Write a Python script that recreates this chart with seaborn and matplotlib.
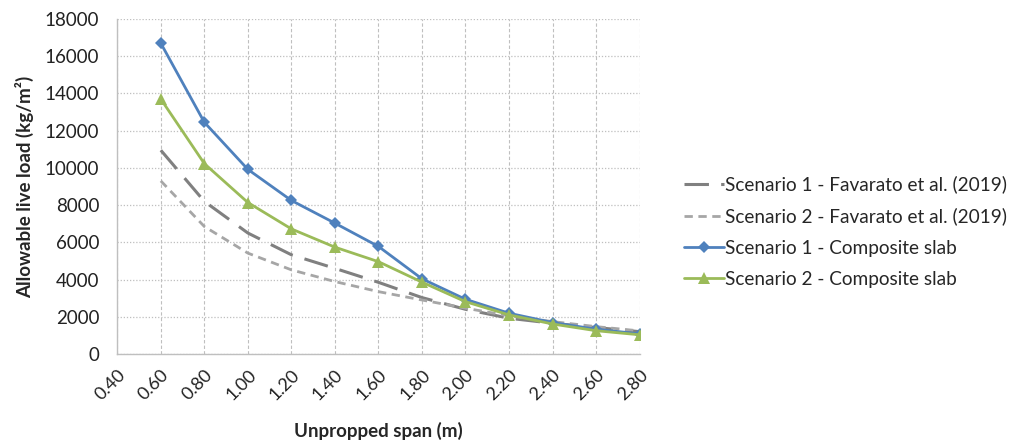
import matplotlib
matplotlib.use("Agg")
import matplotlib.pyplot as plt
import seaborn as sns
import pandas as pd
import numpy as np

# Values
span = [0.60, 0.80, 1.00, 1.20, 1.40, 1.60, 1.80, 2.00, 2.20, 2.40, 2.60, 2.80]
fav_s1 = [10950, 8200, 6500, 5330, 4600, 3850, 3030, 2400, 1920, 1650, 1420, 1200]
fav_s2 = [9300, 6850, 5420, 4520, 3890, 3350, 2900, 2460, 2050, 1740, 1470, 1240]
comp_s1 = [16700, 12450, 9920, 8250, 7030, 5780, 4040, 2940, 2190, 1690, 1330, 1080]
comp_s2 = [13700, 10230, 8140, 6720, 5740, 4960, 3860, 2810, 2100, 1610, 1250, 1030]
x_ticks = [0.40, 0.60, 0.80, 1.00, 1.20, 1.40, 1.60, 1.80, 2.00, 2.20, 2.40, 2.60, 2.80]
y_ticks = [0, 2000, 4000, 6000, 8000, 10000, 12000, 14000, 16000, 18000]

sns.set_style("white")
plt.rcParams['font.family'] = ['Lato', 'DejaVu Sans']

fig = plt.figure(figsize=(10.2, 4.43), dpi=100)
ax = fig.add_axes([0.115, 0.201, 0.512, 0.756])

series = [
    ("Scenario 1 - Favarato et al. (2019)", fav_s1, dict(color='#808080', linestyle=(0, (8, 4)), linewidth=2.2, marker=None)),
    ("Scenario 2 - Favarato et al. (2019)", fav_s2, dict(color='#A6A6A6', linestyle=(0, (3, 2)), linewidth=2.0, marker=None)),
    ("Scenario 1 - Composite slab", comp_s1, dict(color='#4F81BD', linestyle='-', linewidth=2.0, marker='D', markersize=6)),
    ("Scenario 2 - Composite slab", comp_s2, dict(color='#9BBB59', linestyle='-', linewidth=2.0, marker='^', markersize=8)),
]

for name, vals, style in series:
    df = pd.DataFrame({'span': span, 'load': vals})
    sns.lineplot(data=df, x='span', y='load', ax=ax, label=name,
                 markeredgewidth=0, **style)

ax.set_xlim(0.40, 2.80)
ax.set_ylim(0, 18000)
ax.set_xticks(x_ticks)
ax.set_xticklabels([f"{t:.2f}" for t in x_ticks], rotation=45, ha='right',
                   rotation_mode='anchor', fontsize=13, color='#222222')
ax.set_yticks(y_ticks)
ax.set_yticklabels([str(t) for t in y_ticks], fontsize=13.5, color='#222222')

ax.grid(True, axis='x', color='#BFBFBF', linestyle=(0, (3, 2)), linewidth=0.8)
ax.grid(True, axis='y', color='#BFBFBF', linestyle=(0, (1, 1.5)), linewidth=0.9)
ax.set_axisbelow(True)

for s in ['top', 'right']:
    ax.spines[s].set_visible(False)
for s in ['left', 'bottom']:
    ax.spines[s].set_color('#BFBFBF')
    ax.spines[s].set_linewidth(1.0)
ax.tick_params(axis='both', length=5, color='#BFBFBF', direction='out')
ax.tick_params(axis='y', pad=8)
ax.tick_params(axis='x', pad=4)

ax.set_xlabel("Unpropped span (m)", fontsize=13.5, fontweight='bold', labelpad=14)
ax.set_ylabel("Allowable live load (kg/m²)", fontsize=13.5, fontweight='bold', labelpad=8)

ax.legend(loc='center left', bbox_to_anchor=(0.663, 0.477), bbox_transform=fig.transFigure,
          frameon=False, fontsize=13.7, handlelength=2.1, handletextpad=0.08,
          labelspacing=0.75, borderaxespad=0)

fig.savefig("out.png", dpi=100)
